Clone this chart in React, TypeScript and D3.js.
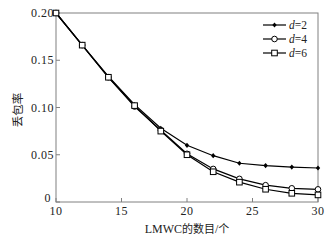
import React from "react";
import * as d3 from "d3";

const xs = [10, 12, 14, 16, 18, 20, 22, 24, 26, 28, 30];
const d2 = [0.2, 0.166, 0.133, 0.103, 0.078, 0.060, 0.049, 0.041, 0.0385, 0.037, 0.036];
const d4 = [0.2, 0.166, 0.132, 0.101, 0.076, 0.051, 0.035, 0.0245, 0.0178, 0.0145, 0.0134];
const d6 = [0.2, 0.166, 0.132, 0.102, 0.075, 0.050, 0.032, 0.021, 0.0135, 0.0092, 0.0075];
const xTicks = [10, 15, 20, 25, 30];
const yTicks = [0, 0.05, 0.1, 0.15, 0.2];
const yTickLabels = ["0", "0.05", "0.10", "0.15", "0.20"];
const seriesNames = ["2", "4", "6"];

export default function App() {
  const W = 334, H = 240;
  const L = 56, R = 318, T = 13, B = 202;
  const x = d3.scaleLinear().domain([10, 30]).range([L, R]);
  const y = d3.scaleLinear().domain([0, 0.2]).range([B, T]);
  const line = d3.line<number>().x((_, i) => x(xs[i])).y((v) => y(v));
  const series = [d2, d4, d6];
  const font = "'Liberation Serif', 'Times New Roman', serif";
  const axisColor = "#808080";

  const marker = (k: number, cx: number, cy: number, key: string) => {
    if (k === 0)
      return <path key={key} d={`M${cx},${cy - 2.6}L${cx + 2.2},${cy}L${cx},${cy + 2.6}L${cx - 2.2},${cy}Z`} fill="#000" />;
    if (k === 1)
      return <circle key={key} cx={cx} cy={cy} r={2.8} fill="#fff" stroke="#000" strokeWidth={1} />;
    return <rect key={key} x={cx - 2.8} y={cy - 2.8} width={5.6} height={5.6} fill="#fff" stroke="#000" strokeWidth={1} />;
  };

  return (
    <svg width={W} height={H} style={{ position: "absolute", left: 0, top: 0, background: "#fff" }}>
      <rect x={0} y={0} width={W} height={H} fill="#fff" />
      <rect x={L} y={T} width={R - L} height={B - T} fill="none" stroke={axisColor} strokeWidth={1} />
      {xTicks.map((t) => (
        <g key={"x" + t}>
          <line x1={x(t)} x2={x(t)} y1={B} y2={B - 4} stroke={axisColor} />
          <text x={x(t)} y={215} fontSize={12} letterSpacing={0.5} fontFamily={font} textAnchor="middle" fill="#222">{t}</text>
        </g>
      ))}
      {yTicks.map((t, i) => (
        <g key={"y" + t}>
          <line x1={L} x2={L + 4} y1={y(t)} y2={y(t)} stroke={axisColor} />
          <text x={i === 0 ? 51 : 54} y={y(t) + (i === 0 ? 0 : 4)} fontSize={12} letterSpacing={0.5} fontFamily={font} textAnchor="end" fill="#222">{yTickLabels[i]}</text>
        </g>
      ))}
      {series.map((s, k) => (
        <g key={"s" + k}>
          <path d={line(s) || ""} fill="none" stroke="#000" strokeWidth={1.2} />
          {s.map((v, i) => marker(k, x(xs[i]), y(v), `m${k}-${i}`))}
        </g>
      ))}
      {series.map((_, k) => {
        const ly = 25 + k * 14;
        return (
          <g key={"l" + k}>
            <line x1={263} x2={286} y1={ly} y2={ly} stroke="#000" strokeWidth={1.2} />
            {marker(k, 274.5, ly, "lm" + k)}
            <text x={289} y={ly + 4} fontSize={11.5} fontFamily={font} fill="#222">
              <tspan fontStyle="italic">d</tspan>={seriesNames[k]}
            </text>
          </g>
        );
      })}
      <text x={187} y={233} fontSize={12} fontFamily={font} textAnchor="middle" fill="#222">
        LMWC<tspan fontFamily="'Noto Sans CJK SC', sans-serif" fontSize={11}>的数目</tspan>/<tspan fontFamily="'Noto Sans CJK SC', sans-serif" fontSize={11}>个</tspan>
      </text>
      <text transform={`translate(22,110) rotate(-90)`} fontSize={11.5} fontFamily="'Noto Sans CJK SC', sans-serif" textAnchor="middle" fill="#222">丢包率</text>
    </svg>
  );
}
